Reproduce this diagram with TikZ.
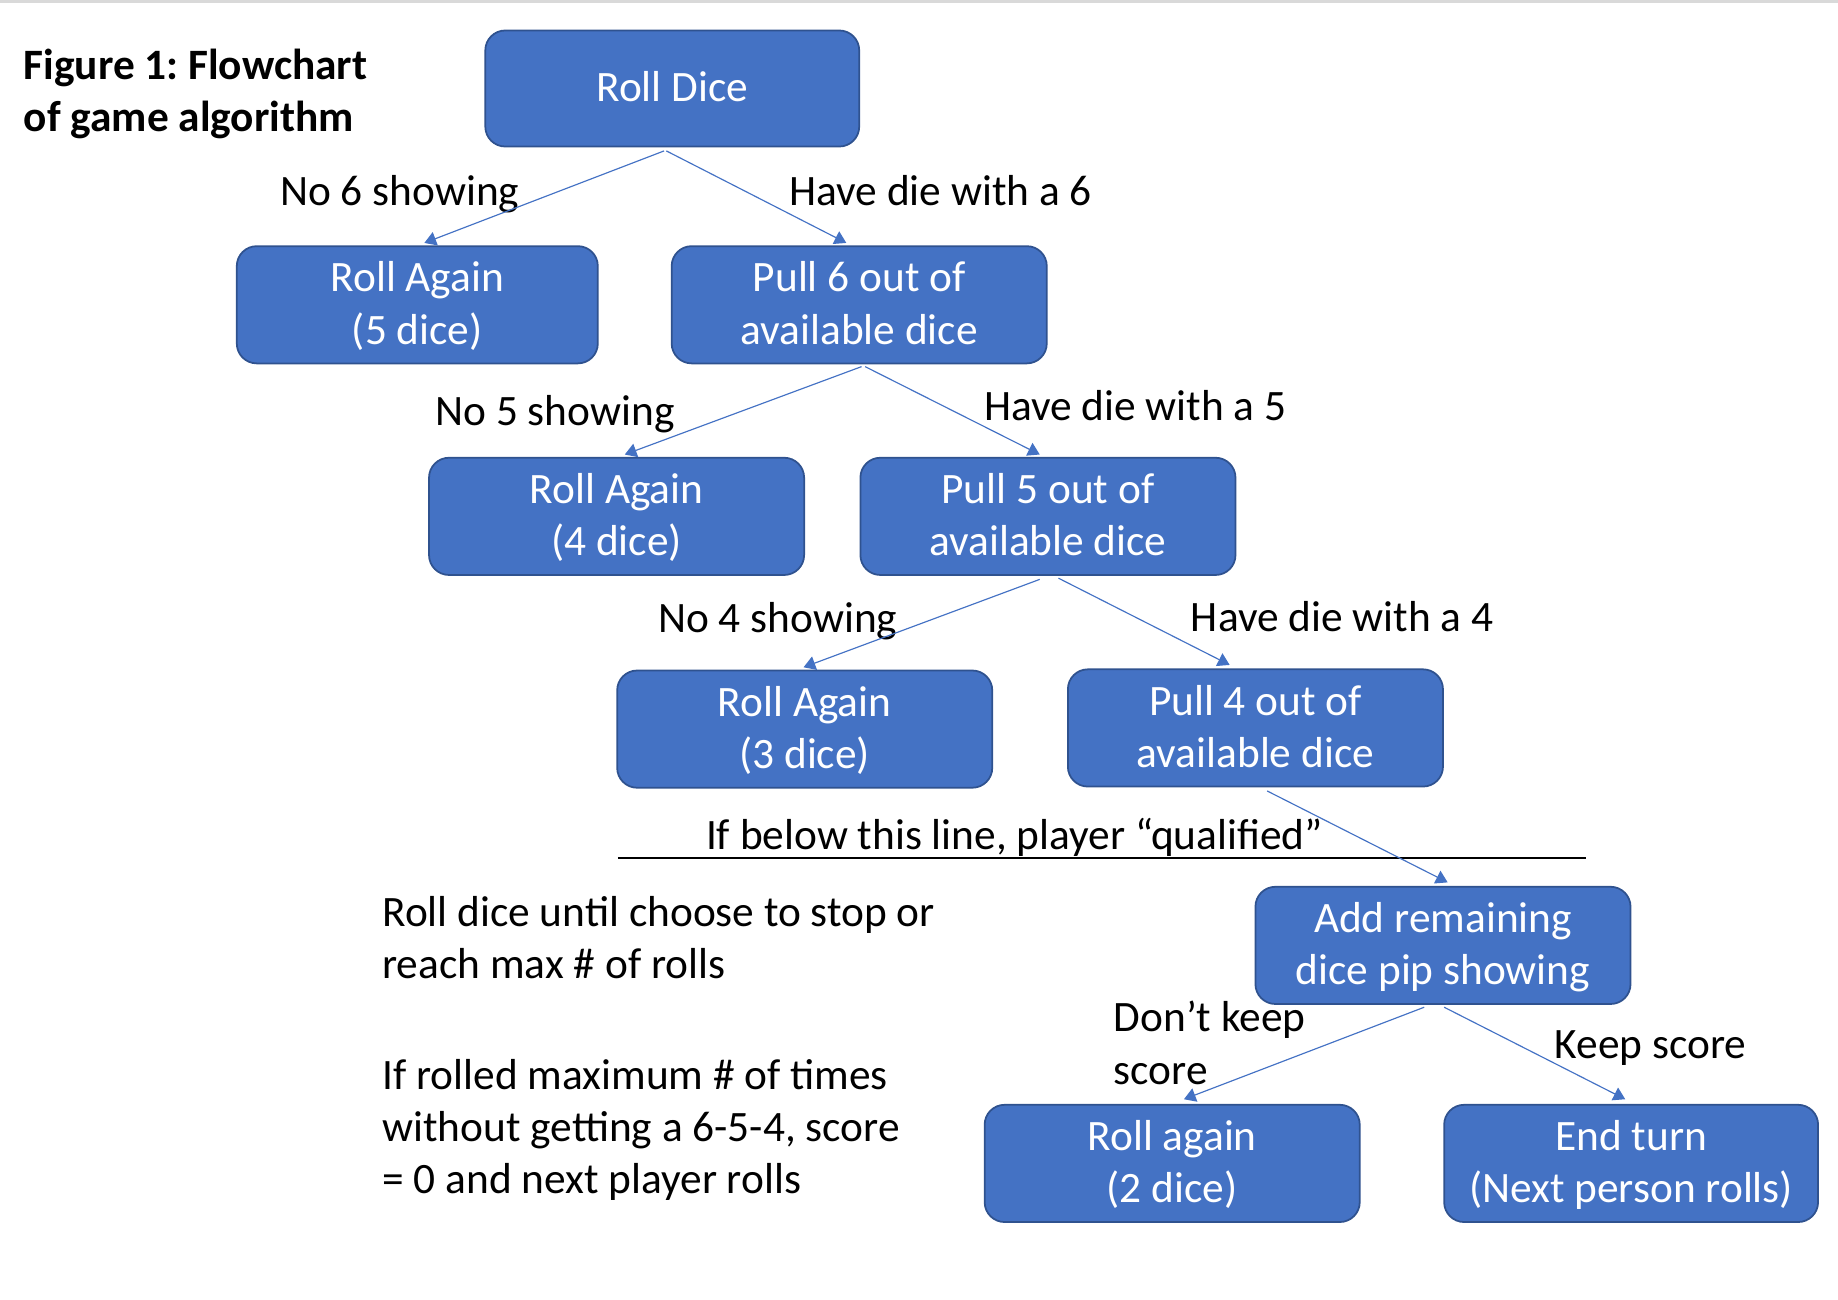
\documentclass[tikz,border=0pt]{standalone}
\usepackage{fontspec}
\setmainfont{Carlito}
\usetikzlibrary{arrows.meta,calc}
\definecolor{boxblue}{HTML}{4472C4}
\definecolor{boxedge}{HTML}{2F528F}
\definecolor{rulegray}{HTML}{D9D9D9}
\newcommand\myfs{\fontsize{37}{44.5}\selectfont\frenchspacing}
\newcommand\topln{\rule{0pt}{36pt}}
\begin{document}
\begin{tikzpicture}[x=1pt,y=-1pt,
  box/.style={draw=boxedge, line width=1.5pt, fill=boxblue, rounded corners=17pt,
    minimum width=320pt, minimum height=100pt, inner sep=0pt, text=white,
    align=center, font=\myfs},
  lbl/.style={inner sep=0pt, font=\myfs, anchor=base},
  blk/.style={inner sep=0pt, font=\myfs, anchor=west, align=left},
  arr/.style={draw=boxblue, line width=1pt, -{Triangle[length=10pt,width=12pt]}}
]
\useasboundingbox (0,0) rectangle (1568,1109);
\fill[rulegray] (0,0) rectangle (1568,2.5);

% title
\node[blk, font=\myfs\bfseries] (title) at (20,81) {\strut Figure 1: Flowchart\\ of game algorithm\strut};

% boxes
\node[box, minimum width=319pt, minimum height=99pt] (rd) at (573.5,75.5) {\topln Roll Dice\strut};
\node[box, minimum width=308pt] (ra5) at (356,260) {\topln Roll Again\\(5 dice)\strut};
\node[box] (p6) at (733,260) {\topln Pull 6 out of\\available dice\strut};
\node[box] (ra4) at (526,440.5) {\topln Roll Again\\(4 dice)\strut};
\node[box] (p5) at (894,440.5) {\topln Pull 5 out of\\available dice\strut};
\node[box] (ra3) at (686.5,622) {\topln Roll Again\\(3 dice)\strut};
\node[box] (p4) at (1071,621) {\topln Pull 4 out of\\available dice\strut};
\node[box] (add) at (1231,806.5) {\topln Add remaining\\dice pip showing\strut};
\node[box] (ra2) at (1000,992.5) {\topln Roll again\\(2 dice)\strut};
\node[box, minimum width=319pt] (et) at (1391.5,992.5) {\topln End turn\\(Next person rolls)\strut};

% labels
\node[lbl] (l6n) at (341,175) {No 6 showing};
\node[lbl] (l6y) at (802.5,175) {Have die with a 6};
\node[lbl] (l5n) at (473.5,363) {No 5 showing};
\node[lbl] (l5y) at (968.5,359) {Have die with a 5};
\node[lbl] (l4n) at (663.5,540) {No 4 showing};
\node[lbl] (l4y) at (1145,539) {Have die with a 4};
\node[lbl] (lq) at (865.5,725) {If below this line, player “qualified”};
\node[lbl] (lks) at (1408,903) {Keep score};
\node[blk] (ldk) at (950,893.6) {\strut Don’t keep\\score\strut};
\node[blk] (n1) at (326,803.6) {\strut Roll dice until choose to stop or\\reach max \# of rolls\strut};
\node[blk] (n2) at (326,965.1) {\strut If rolled maximum \# of times\\without getting a 6-5-4, score\\= 0 and next player rolls\strut};

% qualified line
\coordinate (qa) at (527,732);
\coordinate (qb) at (1353,732);
\draw[black, line width=1pt] (qa) -- (qb);

% connectors
\draw[arr] ($(rd.south)+(-7,3)$) -- ($(ra5.north)+(6,-2)$);
\draw[arr] ($(rd.south)+(-5,3)$) -- ($(p6.north)+(-11,-2)$);
\draw[arr] ($(p6.south)+(2,2)$) -- ($(ra4.north)+(7,-2)$);
\draw[arr] ($(p6.south)+(5,2)$) -- ($(p5.north)+(-7,-2)$);
\draw[arr] ($(p5.south)+(-7,3)$) -- ($(ra3.north)+(-1,-2)$);
\draw[arr] ($(p5.south)+(9,2)$) -- ($(p4.north)+(-22,-3)$);
\draw[arr] ($(p4.south)+(10,3)$) -- ($(add.north)+(4,-3)$);
\draw[arr] ($(add.south)+(-16,2)$) -- ($(ra2.north)+(10,-4)$);
\draw[arr] ($(add.south)+(1,2)$) -- ($(et.north)+(-5,-4)$);
\end{tikzpicture}
\end{document}
